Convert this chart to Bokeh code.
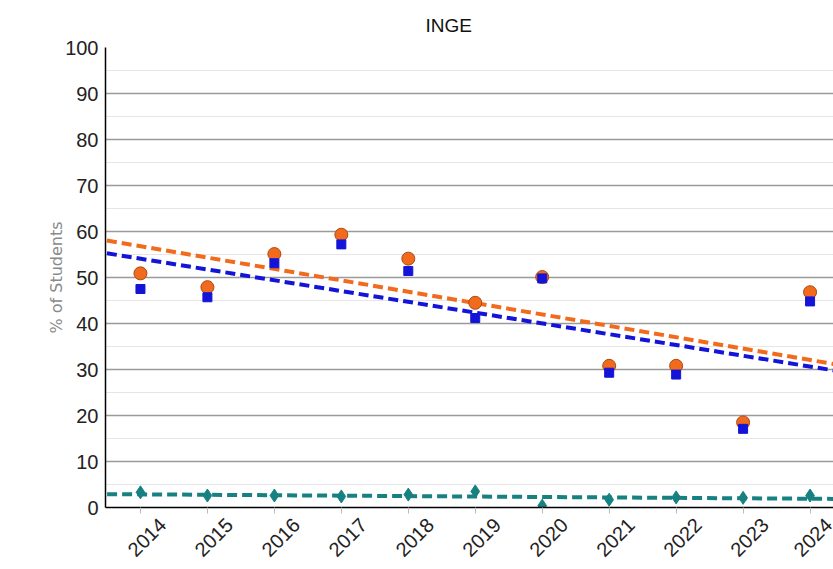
import numpy as np
from math import pi
from bokeh.plotting import figure
from bokeh.models import FixedTicker, Range1d, NumeralTickFormatter
from bokeh.embed import file_html
from bokeh.resources import INLINE

# ---- data ----
years = [2014, 2015, 2016, 2017, 2018, 2019, 2020, 2021, 2022, 2023, 2024]
orange_vals = [50.9, 47.9, 55.1, 59.3, 54.1, 44.5, 50.1, 30.8, 30.8, 18.5, 46.8]
blue_vals = [47.5, 45.7, 53.1, 57.2, 51.4, 41.2, 49.8, 29.3, 28.9, 17.1, 44.8]
teal_vals = [3.3, 2.6, 2.6, 2.4, 2.8, 3.5, 0.4, 1.7, 2.2, 2.1, 2.6]
y_ticks = [0, 10, 20, 30, 40, 50, 60, 70, 80, 90, 100]
title_text = "INGE"
y_label = "% of Students"

ORANGE = "#f26b1d"
BLUE = "#1414d8"
TEAL = "#178181"
FONT = "Liberation Sans"

x_start, x_end = 2013.478, 2024.35
# rotated year labels sit a little to the right of their tick (in years)
label_shift = 0.33

p = figure(width=833, height=569, output_backend="svg", toolbar_location=None,
           x_range=Range1d(x_start, x_end), y_range=Range1d(0, 100),
           min_border_left=105, min_border_right=0, min_border_top=47,
           min_border_bottom=62)
p.outline_line_color = None
p.background_fill_color = "white"
p.border_fill_color = "white"

# title
p.title.text = title_text
p.title.align = "left"
p.title.offset = 320
p.title.vertical_align = "top"
p.title.standoff = 20
p.title.text_font = FONT
p.title.text_font_size = "19px"
p.title.text_font_style = "normal"
p.title.text_color = "#111111"

# y axis
yax = p.yaxis[0]
yax.ticker = FixedTicker(ticks=y_ticks, minor_ticks=[v + 5 for v in y_ticks[:-1]])
yax.major_label_text_font = FONT
yax.major_label_text_font_size = "20px"
yax.major_label_text_color = "#222222"
yax.axis_line_color = "black"
yax.axis_line_width = 1.5
yax.major_tick_out = 0
yax.major_tick_in = 0
yax.minor_tick_out = 0
yax.minor_tick_in = 0
yax.major_label_standoff = 7
yax.axis_label = y_label
yax.axis_label_text_font = "DejaVu Sans"
yax.axis_label_text_font_size = "16px"
yax.axis_label_text_font_style = "normal"
yax.axis_label_text_color = "#8a8a8a"
yax.axis_label_standoff = -4

# x axis: tick marks at the years (minor ticks), rotated labels slightly right
xax = p.xaxis[0]
xax.ticker = FixedTicker(ticks=[y + label_shift for y in years], minor_ticks=years)
xax.formatter = NumeralTickFormatter(format="0")
xax.major_label_orientation = pi / 4
xax.major_label_text_font = FONT
xax.major_label_text_font_size = "20px"
xax.major_label_text_color = "#222222"
xax.major_label_standoff = 8
xax.axis_line_color = "black"
xax.axis_line_width = 1.5
xax.major_tick_out = 0
xax.major_tick_in = 0
xax.minor_tick_out = 6
xax.minor_tick_in = 0
xax.minor_tick_line_color = "#bbbbbb"
xax.minor_tick_line_width = 1

# grids
p.xgrid.grid_line_color = None
p.ygrid.grid_line_color = "#9a9a9a"
p.ygrid.grid_line_width = 1.5
p.ygrid.minor_grid_line_color = "#e6e6e6"
p.ygrid.minor_grid_line_width = 1

# trend lines (least-squares fits of each series)
xs = np.array(years, dtype=float)
line_x = [x_start - 0.2, x_end + 0.2]
for vals, col in ((teal_vals, TEAL), (orange_vals, ORANGE), (blue_vals, BLUE)):
    k, b = np.polyfit(xs, np.array(vals), 1)
    p.line(line_x, [k * x + b for x in line_x], line_color=col, line_width=4,
           line_dash="10 5")

# markers
p.scatter(years, teal_vals, marker="diamond", size=13, fill_color=TEAL,
          line_color=TEAL)
p.scatter(years, orange_vals, marker="circle", size=13, fill_color=ORANGE,
          line_color="#a94a14", line_width=1)
p.scatter(years, blue_vals, marker="square", size=9, fill_color=BLUE,
          line_color=BLUE)

open("out.html", "w").write(file_html(p, INLINE))
